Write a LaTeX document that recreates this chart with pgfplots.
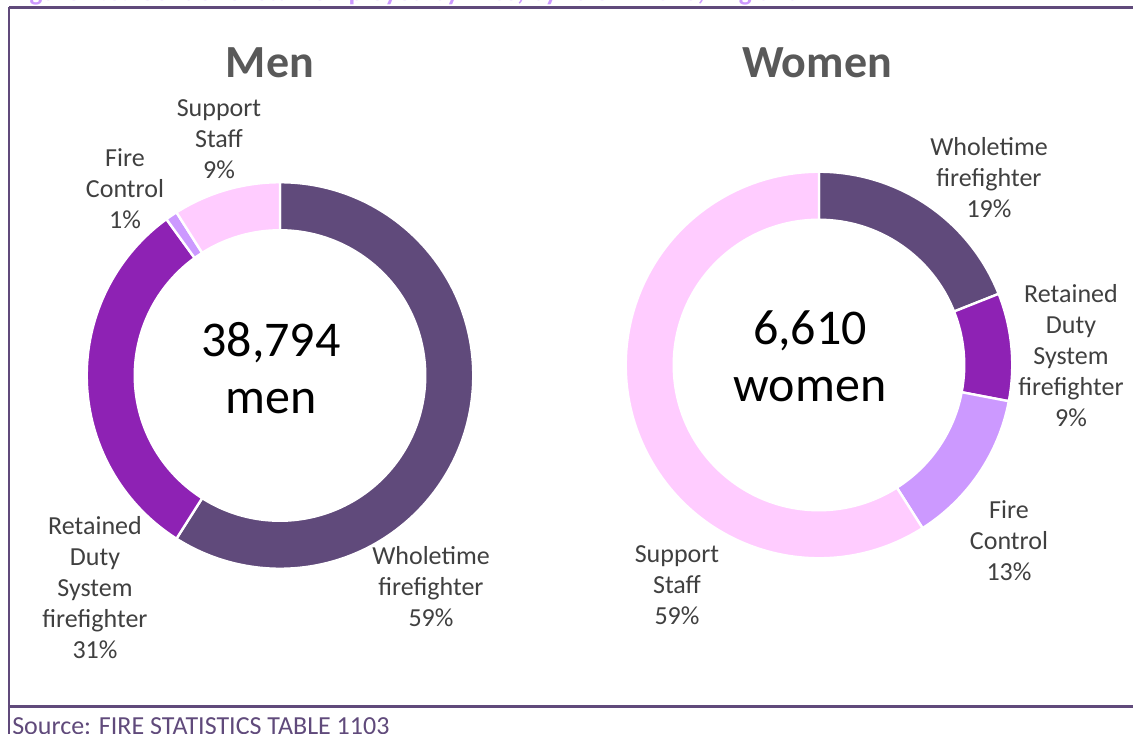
\documentclass[border=0pt]{standalone}
\usepackage{pgfplots}
\usepackage{pgfplotstable}
\pgfplotsset{compat=1.18}
\usepackage{fontspec}
\setmainfont{Carlito}
\definecolor{wt}{HTML}{604A7B}
\definecolor{rds}{HTML}{8E22B4}
\definecolor{fc}{HTML}{CC99FF}
\definecolor{ss}{HTML}{FFCCFF}
\definecolor{lbl}{HTML}{404040}
\definecolor{ttl}{HTML}{595959}
\definecolor{frame}{HTML}{604A7B}

\pgfplotstableread{
role value
Wholetime 59
Retained 31
FireControl 1
Support 9
}\mentable
\pgfplotstableread{
role value
Wholetime 19
Retained 9
FireControl 13
Support 59
}\womentable

% annular sector: start angle, end angle, colour
\newcommand\slice[3]{\fill[#3, draw=white, line width=1.8pt] (axis cs:0,0) ++(#1:144.94pt) arc[start angle=#1, end angle=#2, radius=144.94pt] -- ++({#2+180}:36pt) arc[start angle=#2, end angle=#1, radius=108.94pt] -- cycle;}

\newcommand\angles[2]{% table, prefix
  \pgfplotstablegetelem{0}{value}\of#1\pgfmathsetmacro\va{\pgfplotsretval}%
  \pgfplotstablegetelem{1}{value}\of#1\pgfmathsetmacro\vb{\pgfplotsretval}%
  \pgfplotstablegetelem{2}{value}\of#1\pgfmathsetmacro\vc{\pgfplotsretval}%
  \pgfplotstablegetelem{3}{value}\of#1\pgfmathsetmacro\vd{\pgfplotsretval}%
  \pgfmathsetmacro\tot{\va+\vb+\vc+\vd}%
  \expandafter\xdef\csname #2A\endcsname{90}%
  \pgfmathsetmacro\t{90-(\va/\tot)*360}\expandafter\xdef\csname #2B\endcsname{\t}%
  \pgfmathsetmacro\t{90-((\va+\vb)/\tot)*360}\expandafter\xdef\csname #2C\endcsname{\t}%
  \pgfmathsetmacro\t{90-((\va+\vb+\vc)/\tot)*360}\expandafter\xdef\csname #2D\endcsname{\t}%
  \expandafter\xdef\csname #2E\endcsname{-270}%
}

\begin{document}
\begin{tikzpicture}[x=0.75pt,y=0.75pt]
\useasboundingbox (0,0) rectangle (1133,733);
\angles{\mentable}{m}
\angles{\womentable}{w}

% frame
\draw[frame, line width=2.25pt] (1140,725) -- (9,725);
\draw[frame, line width=2.25pt] (1140,27) -- (9,27);
\draw[frame, line width=1.6pt] (9,726) -- (9,-5);

% clipped title at top
\node[anchor=base west, inner sep=0pt, text=fc, font=\bfseries\fontsize{20.5}{24}\selectfont] at (10,732) {Figure 2.3: Gender of staff employed by FRSs, by role in 2016, England};

% source
\node[anchor=base west, inner sep=0pt, text=frame, font=\fontsize{19.5}{23}\selectfont] at (12,-1) {Source: FIRE STATISTICS TABLE 1103};

% Men donut
\begin{axis}[at={(280,357.5)}, anchor=center, x=0.75pt, y=0.75pt,
  xmin=-200, xmax=200, ymin=-200, ymax=200, hide axis, clip=false]
  \slice{\mA}{\mB}{wt}
  \slice{\mB}{\mC}{rds}
  \slice{\mC}{\mD}{fc}
  \slice{\mD}{\mE}{ss}
\end{axis}

% Women donut
\begin{axis}[at={(819,368)}, anchor=center, x=0.75pt, y=0.75pt,
  xmin=-200, xmax=200, ymin=-200, ymax=200, hide axis, clip=false]
  \slice{\wA}{\wB}{wt}
  \slice{\wB}{\wC}{rds}
  \slice{\wC}{\wD}{fc}
  \slice{\wD}{\wE}{ss}
\end{axis}

% titles
\node[anchor=base, inner sep=0pt, text=ttl, font=\bfseries\fontsize{34.5}{40}\selectfont] at (270,655) {Men};
\node[anchor=base, inner sep=0pt, text=ttl, font=\bfseries\fontsize{34.5}{40}\selectfont] at (817,655) {Women};

% centre texts
\begin{scope}[every node/.style={align=center, inner sep=0pt, text=black, font=\fontsize{37.5}{42.75}\selectfont}]
\node at (271,365) {38,794\\men};
\node at (810,377) {6,610\\women};
\end{scope}

% labels
\begin{scope}[every node/.style={align=center, inner sep=0pt, text=lbl, font=\fontsize{19.5}{23.25}\selectfont}]
\node at (219,733-139) {Support\\Staff\\9\%};
\node at (125,733-189) {Fire\\Control\\1\%};
\node at (95,733-588) {Retained\\Duty\\System\\firefighter\\31\%};
\node at (431,733-587) {Wholetime\\firefighter\\59\%};
\node at (989,733-178) {Wholetime\\firefighter\\19\%};
\node at (1071,733-356) {Retained\\Duty\\System\\firefighter\\9\%};
\node at (1009,733-541) {Fire\\Control\\13\%};
\node at (677,733-585) {Support\\Staff\\59\%};
\end{scope}
\end{tikzpicture}
\end{document}
